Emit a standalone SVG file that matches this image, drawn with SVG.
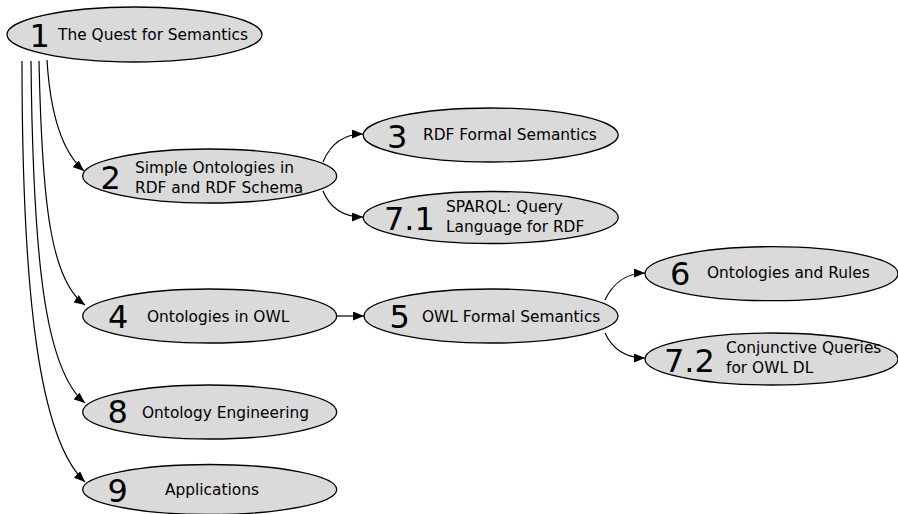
<svg xmlns="http://www.w3.org/2000/svg" width="898" height="514" viewBox="0 0 898 514">
<style>
.n{fill:#dadada;stroke:#000;stroke-width:1.3}
.num{font-family:"DejaVu Sans",sans-serif;font-size:32px;fill:#000}
.t{font-family:"DejaVu Sans",sans-serif;font-size:15.4px;fill:#000}
.e{fill:none;stroke:#000;stroke-width:1.2;marker-end:url(#arr)}
</style>
<defs>
<marker id="arr" viewBox="0 0 11 9" refX="11" refY="4.5" markerWidth="11" markerHeight="9" markerUnits="userSpaceOnUse" orient="auto">
<path d="M0,0 L11,4.5 L0,9 z" fill="#000"/>
</marker>
</defs>
<rect width="898" height="514" fill="#fff"/>
<g id="connectors">
<path class="e" d="M47,60 C50,110 60,150 84,171"/>
<path class="e" d="M39,61 C42,200 50,280 85,305"/>
<path class="e" d="M31,61 C33,260 45,370 85,403"/>
<path class="e" d="M22,61 C22,300 40,440 85,482"/>
<path class="e" d="M323,162 C330,145 342,134 363,134"/>
<path class="e" d="M323,191 C330,208 342,217 363,217"/>
<path class="e" d="M337,316 L364,316"/>
<path class="e" d="M605,300 C612,285 625,273 645,273"/>
<path class="e" d="M605,333 C612,348 625,358 645,358"/>
</g>
<g id="n1"><ellipse class="n" cx="134.5" cy="34.5" rx="127.5" ry="27.5"/><text class="num" x="29.5" y="47">1</text><text class="t" x="58" y="39.5">The Quest for Semantics</text></g>
<g id="n2"><ellipse class="n" cx="209.7" cy="176" rx="127" ry="27"/><text class="num" x="100.5" y="189">2</text><text class="t" x="135" y="172.5">Simple Ontologies in</text><text class="t" x="135" y="192.5">RDF and RDF Schema</text></g>
<g id="n3"><ellipse class="n" cx="490.7" cy="135" rx="127.5" ry="27"/><text class="num" x="387" y="148">3</text><text class="t" x="423" y="140">RDF Formal Semantics</text></g>
<g id="n71"><ellipse class="n" cx="490.7" cy="217.5" rx="127.5" ry="26"/><text class="num" x="384" y="230">7.1</text><text class="t" x="446" y="211.5">SPARQL: Query</text><text class="t" x="446" y="231.5">Language for RDF</text></g>
<g id="n4"><ellipse class="n" cx="209.7" cy="316" rx="127" ry="27"/><text class="num" x="108" y="328">4</text><text class="t" x="147" y="321.5">Ontologies in OWL</text></g>
<g id="n5"><ellipse class="n" cx="491" cy="316" rx="127" ry="27"/><text class="num" x="389.5" y="328">5</text><text class="t" x="422" y="321.5">OWL Formal Semantics</text></g>
<g id="n6"><ellipse class="n" cx="771.5" cy="273.7" rx="126.5" ry="27"/><text class="num" x="670" y="285">6</text><text class="t" x="707" y="278">Ontologies and Rules</text></g>
<g id="n72"><ellipse class="n" cx="771.5" cy="359" rx="126.5" ry="26"/><text class="num" x="664" y="371.5">7.2</text><text class="t" x="726" y="353">Conjunctive Queries</text><text class="t" x="726" y="373">for OWL DL</text></g>
<g id="n8"><ellipse class="n" cx="209.7" cy="412" rx="127" ry="27"/><text class="num" x="107.5" y="423">8</text><text class="t" x="142" y="418">Ontology Engineering</text></g>
<g id="n9"><ellipse class="n" cx="209.7" cy="489.5" rx="127" ry="25"/><text class="num" x="107.5" y="501.5">9</text><text class="t" x="165" y="495">Applications</text></g>
</svg>
